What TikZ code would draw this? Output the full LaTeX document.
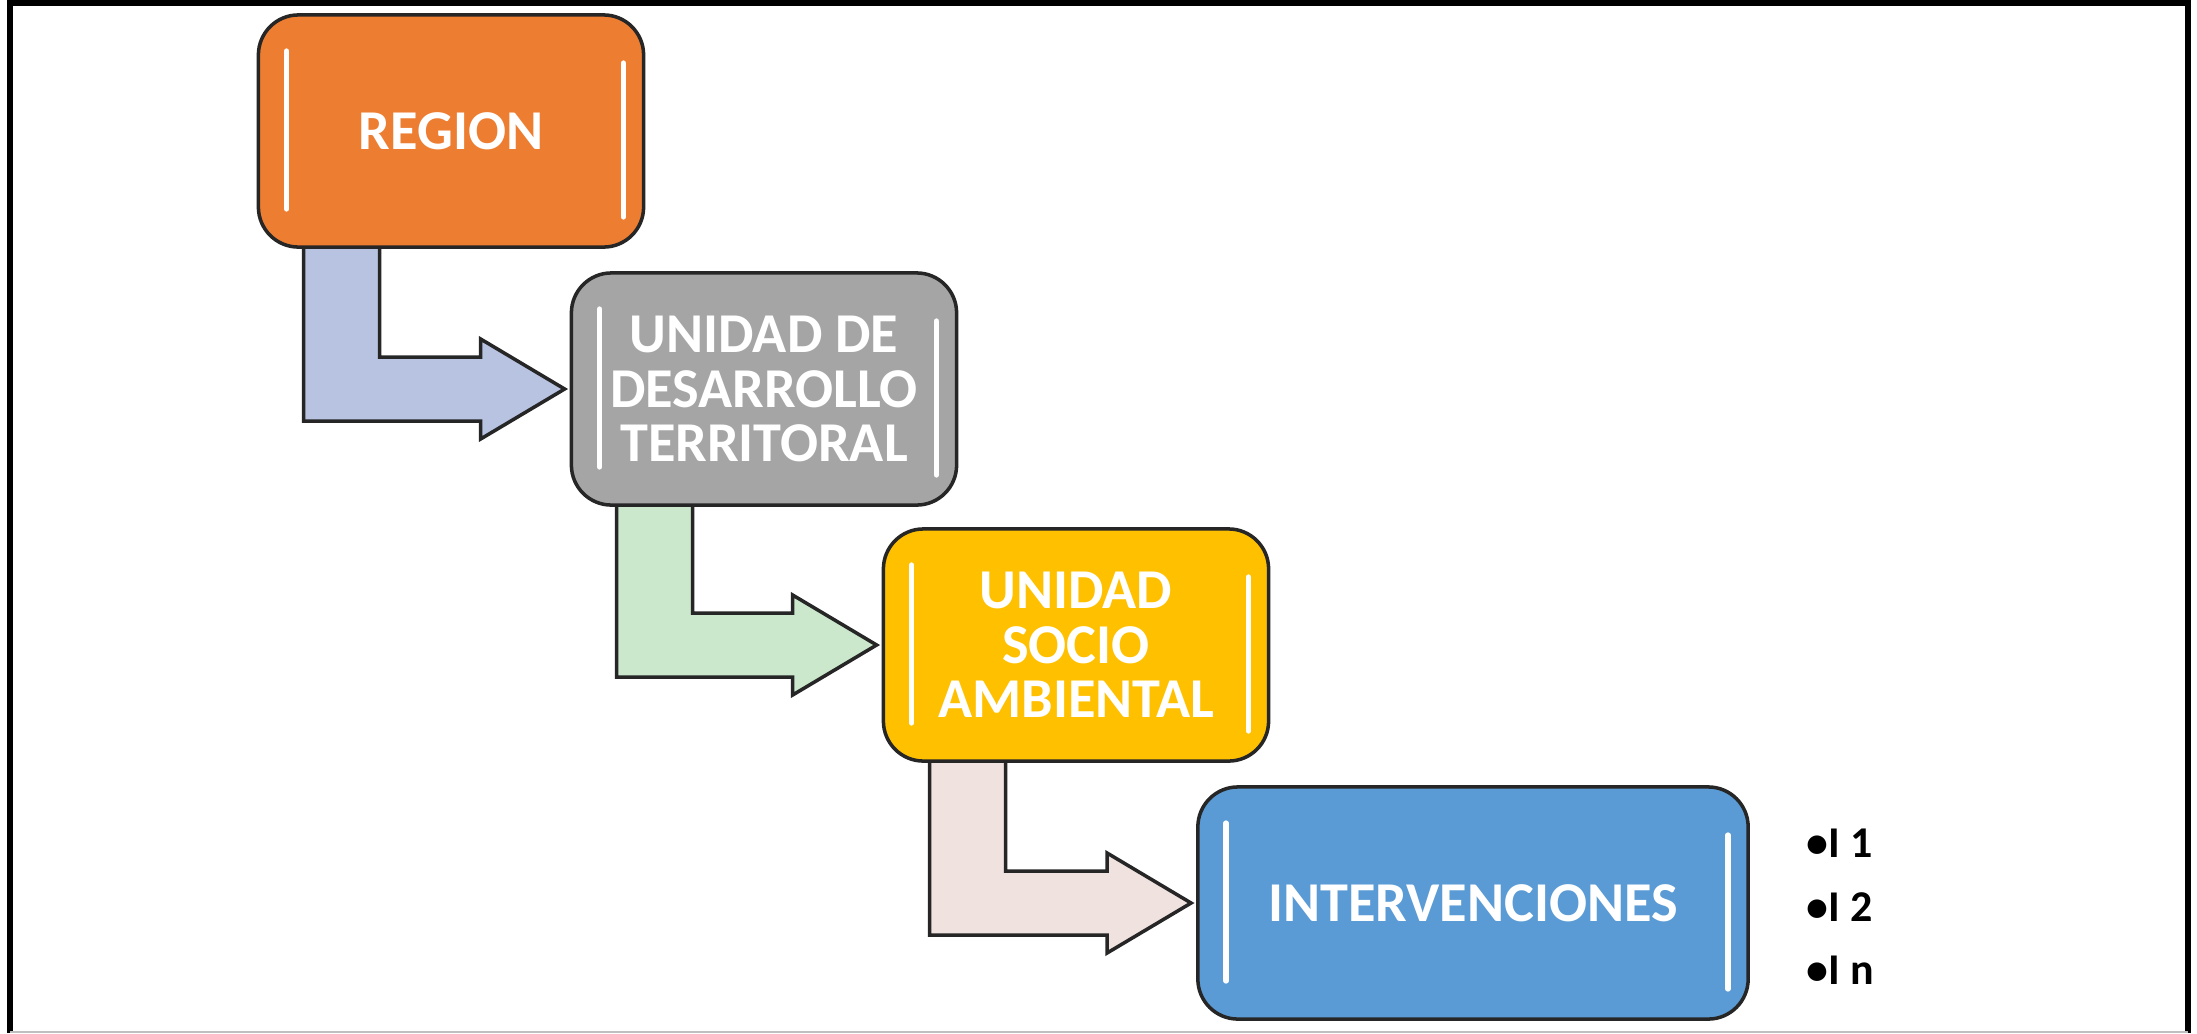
\documentclass[tikz,border=0pt]{standalone}
\usepackage{fontspec}
\setmainfont{Carlito}
\usepackage{xcolor}
\usetikzlibrary{calc,backgrounds}

\definecolor{regorange}{HTML}{ED7D31}
\definecolor{udtgray}{HTML}{A5A5A5}
\definecolor{usagold}{HTML}{FFC000}
\definecolor{intblue}{HTML}{5B9BD5}
\definecolor{arrblue}{HTML}{B7C3E0}
\definecolor{arrgreen}{HTML}{CBE8CC}
\definecolor{arrpink}{HTML}{EFE2DF}

\begin{document}
\begin{tikzpicture}[x=0.01cm, y=-0.01cm,
  stagebox/.style={draw=black!85, line width=1pt, rounded corners=0.4cm, minimum width=3.85cm,
    minimum height=2.32cm, align=center, text=white, inner sep=2pt,
    font=\fontsize{16}{15.5}\selectfont\bfseries},
  bendarrow/.style={draw=black!85, line width=1pt, line join=miter},
  shine/.style={white, line width=1.6pt, line cap=round},
  itemtext/.style={anchor=west, inner sep=0pt, font=\fontsize{12.5}{15}\selectfont\bfseries}
]
\useasboundingbox (0,0) rectangle (2197,1033);

% Frame
\draw[line width=1.6pt] (10,1033) -- (10,3) -- (2188,3) -- (2188,1033);
\draw[black!25] (10,1032) -- (2188,1032);

% Stages
\node[stagebox, fill=regorange] (reg) at (451,131) {REGION};
\node[stagebox, fill=udtgray] (udt) at (764,389) {UNIDAD DE\\DESARROLLO\\TERRITORAL};
\node[stagebox, fill=usagold] (usa) at (1076,645) {UNIDAD\\SOCIO\\AMBIENTAL};
\node[stagebox, fill=intblue, minimum width=5.5cm] (int) at (1473,903) {INTERVENCIONES};

% Highlights on the box sides
\draw[shine] ($(reg.north west)+(30,38)$) -- ($(reg.south west)+(30,-40)$);
\draw[shine] ($(reg.north east)+(-22,50)$) -- ($(reg.south east)+(-22,-32)$);
\draw[shine] ($(udt.north west)+(30,38)$) -- ($(udt.south west)+(30,-40)$);
\draw[shine] ($(udt.north east)+(-22,50)$) -- ($(udt.south east)+(-22,-32)$);
\draw[shine] ($(usa.north west)+(30,38)$) -- ($(usa.south west)+(30,-40)$);
\draw[shine] ($(usa.north east)+(-22,50)$) -- ($(usa.south east)+(-22,-32)$);
\draw[shine] ($(int.north west)+(30,38)$) -- ($(int.south west)+(30,-40)$);
\draw[shine] ($(int.north east)+(-22,50)$) -- ($(int.south east)+(-22,-32)$);

% Bent arrows between the stages
\begin{scope}[on background layer]
\coordinate (s1) at ($(reg.south west)+(47,-10)$);
\coordinate (t1) at ($(udt.west)+(-5,0)$);
\draw[bendarrow, fill=arrblue] (s1) -- ($(s1|-t1)+(0,32)$) -- ($(t1)+(-84,32)$) -- ($(t1)+(-84,50)$)
  -- (t1) -- ($(t1)+(-84,-50)$) -- ($(t1)+(-84,-32)$) -- ($(s1|-t1)+(76,-32)$) -- ($(s1)+(76,0)$) -- cycle;
\coordinate (s2) at ($(udt.south west)+(47,-10)$);
\coordinate (t2) at ($(usa.west)+(-5,0)$);
\draw[bendarrow, fill=arrgreen] (s2) -- ($(s2|-t2)+(0,32)$) -- ($(t2)+(-84,32)$) -- ($(t2)+(-84,50)$)
  -- (t2) -- ($(t2)+(-84,-50)$) -- ($(t2)+(-84,-32)$) -- ($(s2|-t2)+(76,-32)$) -- ($(s2)+(76,0)$) -- cycle;
\coordinate (s3) at ($(usa.south west)+(48,-10)$);
\coordinate (t3) at ($(int.west)+(-5,0)$);
\draw[bendarrow, fill=arrpink] (s3) -- ($(s3|-t3)+(0,32)$) -- ($(t3)+(-84,32)$) -- ($(t3)+(-84,50)$)
  -- (t3) -- ($(t3)+(-84,-50)$) -- ($(t3)+(-84,-32)$) -- ($(s3|-t3)+(76,-32)$) -- ($(s3)+(76,0)$) -- cycle;
\end{scope}

% Interventions list
\node[itemtext] (i1) at (1806,843) {•I 1};
\node[itemtext] (i2) at (1806,907) {•I 2};
\node[itemtext] (i3) at (1806,970) {•I n};

\end{tikzpicture}
\end{document}
